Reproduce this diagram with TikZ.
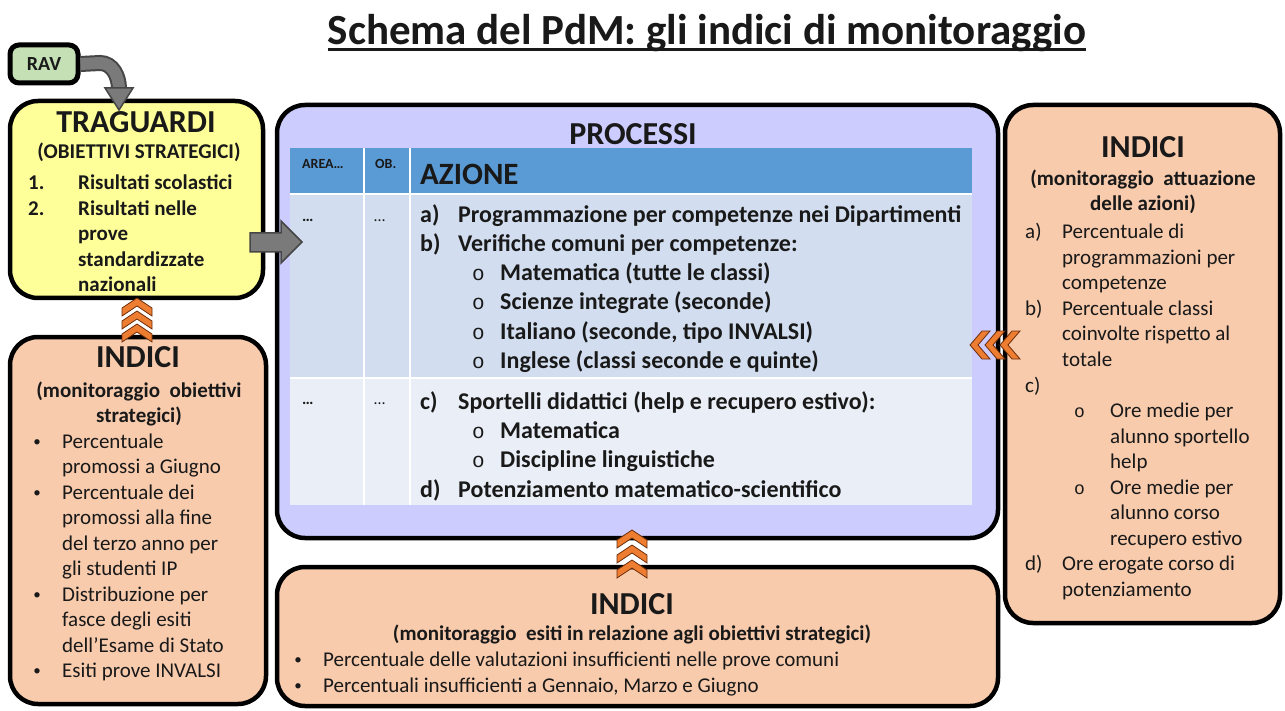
\documentclass[tikz,border=0pt]{standalone}
\usepackage{fontspec}
\setmainfont{Carlito}
\newfontfamily\monof{Liberation Mono}
\usetikzlibrary{calc}
\definecolor{peach}{RGB}{248,203,173}
\definecolor{ylw}{RGB}{255,255,153}
\definecolor{lav}{RGB}{204,204,255}
\definecolor{ravg}{RGB}{197,224,180}
\definecolor{hdrb}{RGB}{91,155,213}
\definecolor{rowa}{RGB}{210,222,239}
\definecolor{rowb}{RGB}{234,239,247}
\definecolor{orng}{RGB}{237,125,49}
\definecolor{chevd}{RGB}{110,45,10}
\definecolor{arrg}{RGB}{122,122,122}
\definecolor{arrd}{RGB}{70,70,70}
\definecolor{ink}{RGB}{25,25,25}
\newcommand\myfs[1]{\fontsize{#1}{#1}\selectfont}
\begin{document}
\begin{tikzpicture}[x=1pt,y=-1pt,
  box/.style={draw=black, line width=4.5pt, rounded corners=28pt, inner sep=0pt},
  txt/.style={anchor=base west, inner sep=0pt, text=ink, font=\myfs{21}},
  btxt/.style={anchor=base west, inner sep=0pt, text=ink, font=\myfs{21}\bfseries},
  ttxt/.style={anchor=base west, inner sep=0pt, text=ink, font=\myfs{24}\bfseries},
  bul/.style={anchor=base, inner sep=0pt, text=ink, font=\myfs{15}},
  ctr/.style={anchor=base, inner sep=0pt, text=ink},
  headt/.style={ctr, font=\myfs{32}\bfseries},
  subt/.style={ctr, font=\myfs{21}\bfseries},
  chevup/.pic={\filldraw[fill=orng, draw=chevd, line width=0.8pt] (-15,10)--(0,0)--(15,10)--(15,18)--(0,8)--(-15,18)--cycle;},
  chevleft/.pic={\filldraw[fill=orng, draw=chevd, line width=0.8pt] (12,-14)--(0,0)--(12,14)--(20,14)--(8,0)--(20,-14)--cycle;}
]
\useasboundingbox (0,0) rectangle (1285,711);
\fill[white] (0,0) rectangle (1285,711);

% title
\node[ctr, font=\myfs{43}\bfseries] (title) at (707,45) {Schema del PdM: gli indici di monitoraggio};
\draw[line width=3pt, ink] ($(title.base west)+(0,5)$) -- ($(title.base east)+(0,5)$);

% boxes
\node[box, fill=ravg, rounded corners=9pt, line width=5pt, minimum width=68pt, minimum height=38pt, font=\myfs{20}\bfseries, text=ink] (rav) at (44,64) {RAV};
\node[box, fill=ylw, minimum width=253pt, minimum height=197pt] (trag) at (136.5,199.5) {};
\node[box, fill=peach, minimum width=256pt, minimum height=367pt] (indl) at (138,520.5) {};
\node[box, fill=lav, minimum width=721pt, minimum height=433pt] (proc) at (637.5,321.5) {};
\node[box, fill=peach, minimum width=721pt, minimum height=139pt] (indb) at (637.5,636.5) {};
\node[box, fill=peach, minimum width=275pt, minimum height=518pt] (indr) at (1142.5,364) {};

% TRAGUARDI content
\node[headt] (tragt) at (136,133) {TRAGUARDI};
\node[subt] (trags) at (139,159) {(OBIETTIVI STRATEGICI)};
\node[btxt] (tn1) at (28,190) {1.};
\node[btxt] (tn2) at (28,215.5) {2.};
\foreach \t [count=\i] in {Risultati scolastici, Risultati nelle, prove, standardizzate, nazionali}
  \node[btxt] (tl\i) at (78,{190+25.5*(\i-1)}) {\t};

% left INDICI content
\node[headt] (indlt) at (138,367) {INDICI};
\node[subt] (indls1) at (139,397) {(monitoraggio\ \ obiettivi};
\node[subt] (indls2) at (139,422) {strategici)};
\foreach \t [count=\i] in {Percentuale, promossi a Giugno, Percentuale dei, promossi alla fine, del terzo anno per, gli studenti IP, Distribuzione per, fasce degli esiti, dell’Esame di Stato, Esiti prove INVALSI}
  \node[txt] (ll\i) at (62,{448+25.5*(\i-1)}) {\t};
\foreach \k in {1,3,7,10}
  \node[bul] (lb\k) at (37,{446+25.5*(\k-1)}) {•};

% PROCESSI content
\node[headt] (proct) at (633,145) {PROCESSI};
\fill[hdrb] (290,148) rectangle (972,194);
\fill[rowa] (290,194) rectangle (972,378);
\fill[rowb] (290,378) rectangle (972,505);
\draw[white, line width=2pt] (364,148)--(364,505) (410,148)--(410,505) (290,194)--(972,194) (290,378)--(972,378);
\node[btxt, font=\myfs{14}\bfseries] (harea) at (302,169) {AREA…};
\node[btxt, font=\myfs{14}\bfseries] (hob) at (375,169) {OB.};
\node[btxt, font=\myfs{31}\bfseries] (hazione) at (420,185) {AZIONE};
\node[btxt, font=\myfs{16}\bfseries] (d1a) at (302,222) {…};
\node[btxt, font=\myfs{16}] (d1b) at (374,222) {…};
\node[btxt, font=\myfs{16}\bfseries] (d2a) at (302,404) {…};
\node[btxt, font=\myfs{16}] (d2b) at (374,404) {…};
\foreach \y/\l [count=\i] in {223/a), 252/b), 409/c), 497/d)}
  \node[ttxt] (pl\i) at (420,\y) {\l};
\foreach \y/\x/\t [count=\i] in {223/458/Programmazione per competenze nei Dipartimenti,
  252/458/Verifiche comuni per competenze:,
  281/500/{Matematica (tutte le classi)},
  310/500/{Scienze integrate (seconde)},
  339/500/{Italiano (seconde, tipo INVALSI)},
  368/500/{Inglese (classi seconde e quinte)},
  409/458/{Sportelli didattici (help e recupero estivo):},
  438/500/Matematica,
  467/500/Discipline linguistiche,
  497/458/Potenziamento matematico-scientifico}
  \node[ttxt] (pt\i) at (\x,\y) {\t};
\foreach \y [count=\i] in {281,310,339,368,438,467}
  \node[txt, font=\myfs{21}\monof] (po\i) at (472,\y) {o};

% bottom INDICI content
\node[headt] (indbt) at (632,614) {INDICI};
\node[subt] (indbs) at (632,640) {(monitoraggio\ \ esiti in relazione agli obiettivi strategici)};
\node[bul] (bb1) at (298,664.5) {•};
\node[bul] (bb2) at (298,690) {•};
\node[txt] (bl1) at (323,666.5) {Percentuale delle valutazioni insufficienti nelle prove comuni};
\node[txt] (bl2) at (323,692) {Percentuali insufficienti a Gennaio, Marzo e Giugno};

% right INDICI content
\node[headt] (indrt) at (1143,158) {INDICI};
\node[subt] (indrs1) at (1143,186) {(monitoraggio\ \ attuazione};
\node[subt] (indrs2) at (1143,211) {delle azioni)};
\foreach \x/\t [count=\i] in {1062/Percentuale di, 1062/programmazioni per, 1062/competenze,
  1062/Percentuale classi, 1062/coinvolte rispetto al, 1062/totale, 1062/{},
  1110/Ore medie per, 1110/alunno sportello, 1110/help,
  1110/Ore medie per, 1110/alunno corso, 1110/recupero estivo,
  1062/Ore erogate corso di, 1062/potenziamento}
  \node[txt] (rl\i) at (\x,{239+25.5*(\i-1)}) {\t};
\foreach \k/\l in {1/a), 4/b), 7/c), 14/d)}
  \node[txt] (rlab\k) at (1025,{239+25.5*(\k-1)}) {\l};
\foreach \k in {8,11}
  \node[txt, font=\myfs{18}\monof] (ro\k) at (1074,{239+25.5*(\k-1)}) {o};

% arrows
\draw[arrd, line width=16pt] (rav.east) -- (100,63) to[out=0,in=90] (119,89);
\draw[arrg, line width=12pt] (rav.east) -- (100,63) to[out=0,in=90] (119,89);
\filldraw[fill=arrg, draw=arrd, line width=1.5pt] (105,88) -- (133,88) -- (119,110) -- cycle;
\filldraw[fill=arrg, draw=arrd, line width=1.5pt] (250,233)--(281,233)--(281,221)--(302,242)--(281,263)--(281,252)--(250,252)--cycle;

% chevrons
\foreach \t in {298,311,324} \pic at (137,\t) {chevup};
\foreach \t in {530,545,560} \pic at (632,\t) {chevup};
\foreach \s in {970,985,1000} \pic at (\s,345) {chevleft};
\end{tikzpicture}
\end{document}
